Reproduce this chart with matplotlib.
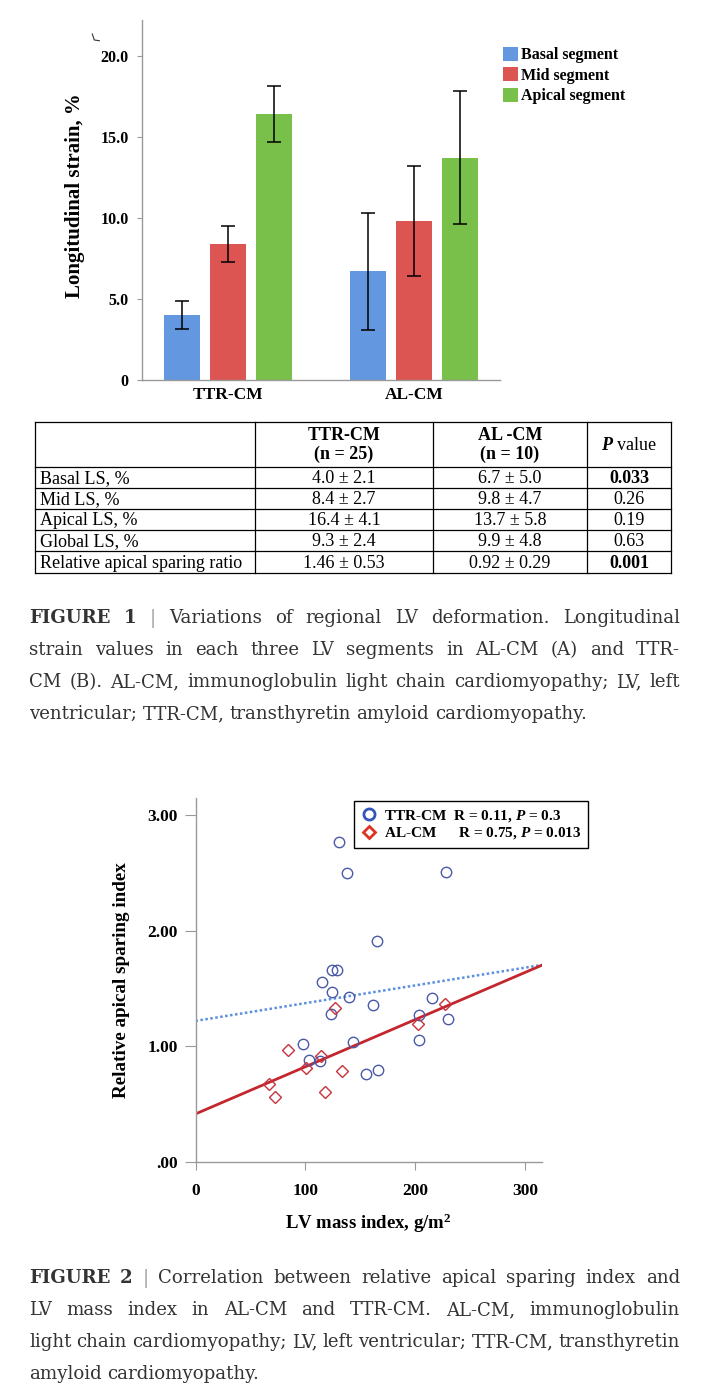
import matplotlib
matplotlib.use("Agg")
import matplotlib.pyplot as plt
import numpy as np
from matplotlib.lines import Line2D
from matplotlib.patches import Patch

plt.rcParams['font.family'] = ['Liberation Serif', 'DejaVu Serif']
plt.rcParams['mathtext.fontset'] = 'custom'
plt.rcParams['mathtext.rm'] = 'Liberation Serif:bold'
plt.rcParams['mathtext.it'] = 'Liberation Serif:italic:bold'
plt.rcParams['mathtext.bf'] = 'Liberation Serif:bold'

# ---------------- Figure 1: bar chart data ----------------
groups = ["TTR-CM", "AL-CM"]
segments = ["Basal segment", "Mid segment", "Apical segment"]
basal_mean = [4.0, 6.7]
mid_mean = [8.4, 9.8]
apical_mean = [16.4, 13.7]
basal_err = [0.88, 3.6]
mid_err = [1.1, 3.4]
apical_err = [1.7, 4.1]
bar_yticks = [0, 5, 10, 15, 20]
bar_yticklabels = ["0", "5.0", "10.0", "15.0", "20.0"]

# ---------------- Figure 1: table data ----------------
col_headers = ["", "TTR-CM\n(n = 25)", "AL -CM\n(n = 10)", "P value"]
row_labels = ["Basal LS, %", "Mid LS, %", "Apical LS, %", "Global LS, %",
              "Relative apical sparing ratio"]
ttr_values = ["4.0 \u00b1 2.1", "8.4 \u00b1 2.7", "16.4 \u00b1 4.1", "9.3 \u00b1 2.4", "1.46 \u00b1 0.53"]
al_values = ["6.7 \u00b1 5.0", "9.8 \u00b1 4.7", "13.7 \u00b1 5.8", "9.9 \u00b1 4.8", "0.92 \u00b1 0.29"]
p_values = ["0.033", "0.26", "0.19", "0.63", "0.001"]
p_bold = [True, False, False, False, True]

# ---------------- Figure 2: scatter data ----------------
ttr_lvmi = [131, 138, 228, 165, 124, 129, 115, 124, 140, 162, 215, 123, 204, 230,
            98, 143, 204, 103, 113, 155, 166]
ttr_ras = [2.77, 2.50, 2.51, 1.91, 1.66, 1.66, 1.56, 1.47, 1.43, 1.36, 1.42, 1.28,
           1.27, 1.24, 1.02, 1.04, 1.06, 0.88, 0.87, 0.76, 0.80]
al_lvmi = [127, 84, 101, 114, 133, 67, 72, 118, 227, 203]
al_ras = [1.33, 0.97, 0.81, 0.92, 0.785, 0.675, 0.56, 0.61, 1.37, 1.19]
ttr_fit = (1.221, 0.001535)   # intercept, slope
al_fit = (0.416, 0.00408)
sc_xticks = [0, 100, 200, 300]
sc_xticklabels = ["0", "100", "200", "300"]
sc_yticks = [0, 1, 2, 3]
sc_yticklabels = [".00", "1.00", "2.00", "3.00"]
legend_labels = ["TTR-CM  R = 0.11, $\\mathit{P}$ = 0.3",
                 "AL-CM      R = 0.75, $\\mathit{P}$ = 0.013"]

caption1 = ["FIGURE 1 | Variations of regional LV deformation. Longitudinal",
            "strain values in each three LV segments in AL-CM (A) and TTR-",
            "CM (B). AL-CM, immunoglobulin light chain cardiomyopathy; LV, left",
            "ventricular; TTR-CM, transthyretin amyloid cardiomyopathy."]
caption2 = ["FIGURE 2 | Correlation between relative apical sparing index and",
            "LV mass index in AL-CM and TTR-CM. AL-CM, immunoglobulin",
            "light chain cardiomyopathy; LV, left ventricular; TTR-CM, transthyretin",
            "amyloid cardiomyopathy."]

W, H = 724, 1400
fig = plt.figure(figsize=(W / 100, H / 100), dpi=100)
fig.patch.set_facecolor('white')

# overlay axes in pixel coords (for table and captions)
ov = fig.add_axes([0, 0, 1, 1])
ov.set_xlim(0, W)
ov.set_ylim(H, 0)
ov.axis('off')
ov.patch.set_visible(False)

# ---------------- bar chart ----------------
ax = fig.add_axes([142 / W, 1 - 380 / H, 358 / W, 360 / H])
bar_colors = ['#6397DF', '#DC5552', '#79C04A']
means = [basal_mean, mid_mean, apical_mean]
errs = [basal_err, mid_err, apical_err]
xg = np.arange(len(groups))
step, bw = 0.247, 0.194
for k in range(3):
    xs = xg + (k - 1) * step
    ax.bar(xs, means[k], width=bw, color=bar_colors[k], label=segments[k], zorder=2)
    ax.errorbar(xs, means[k], yerr=errs[k], fmt='none', ecolor='black',
                elinewidth=1.1, capsize=5, capthick=1.1, zorder=3)
ax.set_xlim(-0.462, 1.462)
ax.set_ylim(0, 22.2)
ax.set_xticks(xg)
ax.set_xticklabels(groups, fontsize=12.5, fontweight='bold')
ax.set_yticks(bar_yticks)
ax.set_yticklabels(bar_yticklabels, fontsize=11.5, fontweight='bold')
ax.tick_params(axis='x', length=0, pad=5)
ax.tick_params(axis='y', length=3.6, pad=6.0, color='#999999', width=0.8)
for s in ['top', 'right']:
    ax.spines[s].set_visible(False)
for s in ['left', 'bottom']:
    ax.spines[s].set_color('#999999')
    ax.spines[s].set_linewidth(1.0)
ax.set_ylabel("Longitudinal strain, %", fontsize=15, fontweight='bold', va='center')
ax.yaxis.set_label_coords((75 - 142) / 358, (380 - 196) / 360)
handles = [Patch(facecolor=c, edgecolor='none') for c in bar_colors]
ax.legend(handles, segments, loc='upper left', bbox_to_anchor=(503 / W, 1 - 47 / H),
          bbox_transform=fig.transFigure, frameon=False, borderpad=0, borderaxespad=0,
          handlelength=0.95, handleheight=0.95, handletextpad=0.15, labelspacing=0.25,
          prop={'family': 'Liberation Serif', 'weight': 'bold', 'size': 11.5})
# small stray mark in the original
fig.add_artist(Line2D([92.3 / W, 94.3 / W, 99.3 / W], [1 - 34 / H, 1 - 40 / H, 1 - 40.7 / H],
                      color='#333333', lw=0.8))

# ---------------- table ----------------
col_x = [35, 255, 433, 587, 671]
row_y = [422, 467, 488, 509, 530, 551, 573]
for yy in row_y:
    ov.plot([col_x[0], col_x[-1]], [yy, yy], color='black', lw=0.9)
for xx in col_x:
    ov.plot([xx, xx], [row_y[0], row_y[-1]], color='black', lw=0.9)
tfs = 13
hdr_mid = (row_y[0] + row_y[1]) / 2
for c in (1, 2):
    cx = (col_x[c] + col_x[c + 1]) / 2
    l1, l2 = col_headers[c].split("\n")
    ov.text(cx, hdr_mid - 9, l1, ha='center', va='center', fontsize=tfs, fontweight='bold')
    ov.text(cx, hdr_mid + 10, l2, ha='center', va='center', fontsize=tfs, fontweight='bold')
cx = (col_x[3] + col_x[4]) / 2
ov.text(cx, hdr_mid + 1, "$\\mathit{P}$ value", ha='center', va='center', fontsize=tfs)
for i, lab in enumerate(row_labels):
    cy = (row_y[i + 1] + row_y[i + 2]) / 2 + 1
    ov.text(col_x[0] + 5, cy, lab, ha='left', va='center', fontsize=tfs)
    ov.text((col_x[1] + col_x[2]) / 2, cy, ttr_values[i], ha='center', va='center', fontsize=tfs)
    ov.text((col_x[2] + col_x[3]) / 2, cy, al_values[i], ha='center', va='center', fontsize=tfs)
    ov.text((col_x[3] + col_x[4]) / 2, cy, p_values[i], ha='center', va='center', fontsize=tfs,
            fontweight='bold' if p_bold[i] else 'normal')

# ---------------- scatter ----------------
ax2 = fig.add_axes([195.5 / W, 1 - 1162 / H, 346.2 / W, 364 / H])
ax2.set_xlim(0, 315.3)
ax2.set_ylim(0, 3.15)
xl = np.array(ax2.get_xlim())
ax2.plot(xl, ttr_fit[0] + ttr_fit[1] * xl, color='#5B8FE0', lw=1.8, ls=(0, (1, 1)), zorder=2)
ax2.plot(xl, al_fit[0] + al_fit[1] * xl, color='#C4262E', lw=2.0, zorder=2)
ax2.plot(ttr_lvmi, ttr_ras, ls='none', marker='o', ms=7.5, mfc='none', mec='#4A5AA8', mew=1.0, zorder=3)
ax2.plot(al_lvmi, al_ras, ls='none', marker='D', ms=6.6, mfc='none', mec='#C8323C', mew=1.0, zorder=3)
ax2.set_xticks(sc_xticks)
ax2.set_xticklabels(sc_xticklabels, fontsize=12.5, fontweight='bold')
ax2.set_yticks(sc_yticks)
ax2.set_yticklabels(sc_yticklabels, fontsize=12.5, fontweight='bold')
ax2.tick_params(axis='x', length=6, pad=9, color='#999999', width=0.8)
ax2.tick_params(axis='y', length=8, pad=4.8, color='#999999', width=0.8)
for s in ['top', 'right']:
    ax2.spines[s].set_visible(False)
for s in ['left', 'bottom']:
    ax2.spines[s].set_color('#999999')
    ax2.spines[s].set_linewidth(1.0)
ax2.set_ylabel("Relative apical sparing index", fontsize=13.8, fontweight='bold', va='center')
ax2.yaxis.set_label_coords((122 - 195.5) / 346.2, 0.5)
ax2.set_xlabel("LV mass index, g/m$^{\\mathbf{2}}$", fontsize=13.5, fontweight='bold', va='center')
ax2.xaxis.set_label_coords(0.5, -(1223 - 1162) / 364)
lh = [Line2D([], [], ls='none', marker='o', ms=8, mfc='none', mec='#3355BB', mew=2.0),
      Line2D([], [], ls='none', marker='D', ms=6.5, mfc='none', mec='#DD3322', mew=2.0)]
leg = ax2.legend(lh, legend_labels, loc='upper left', bbox_to_anchor=(354 / W, 1 - 801 / H),
                 bbox_transform=fig.transFigure, borderaxespad=0, fancybox=False,
                 edgecolor='black', framealpha=1, borderpad=0.45, handlelength=1.0,
                 handletextpad=0.5, labelspacing=0.1,
                 prop={'family': 'Liberation Serif', 'weight': 'bold', 'size': 11})
leg.get_frame().set_linewidth(1.0)

# ---------------- captions (justified) ----------------
fig.canvas.draw()
renderer = fig.canvas.get_renderer()


def paragraph(lines, x0, x1, base0, dy, size):
    txt_color = '#333333'
    all_texts = []
    for i, line in enumerate(lines):
        words = line.split(" ")
        ts = []
        for j, w in enumerate(words):
            weight = 'bold' if (i == 0 and j < 2) else 'normal'
            color = '#9a9a9a' if (i == 0 and j == 2) else txt_color
            t = ov.text(0, base0 + i * dy, w, fontsize=size, family='DejaVu Serif',
                        fontweight=weight, color=color, va='baseline', ha='left')
            ts.append(t)
        all_texts.append(ts)
    need = 1.0
    for i, ts in enumerate(all_texts[:-1]):
        wsum = sum(t.get_window_extent(renderer).width for t in ts)
        minsp = 0.22 * size * 100 / 72 * (len(ts) - 1)
        need = max(need, (wsum + minsp) / (x1 - x0))
    if need > 1.0:
        for ts in all_texts:
            for t in ts:
                t.set_fontsize(size / need)
    size2 = size / max(need, 1.0)
    for i, ts in enumerate(all_texts):
        widths = [t.get_window_extent(renderer).width for t in ts]
        if i == len(all_texts) - 1:
            gap = 0.30 * size2 * 100 / 72
        else:
            gap = (x1 - x0 - sum(widths)) / (len(ts) - 1)
        x = x0
        for t, w in zip(ts, widths):
            t.set_x(x)
            x += w + gap


paragraph(caption1, 29, 680, 623, 32, 13.1)
paragraph(caption2, 29, 680, 1283, 32, 13.1)

fig.savefig("out.png", dpi=100, facecolor='white')
